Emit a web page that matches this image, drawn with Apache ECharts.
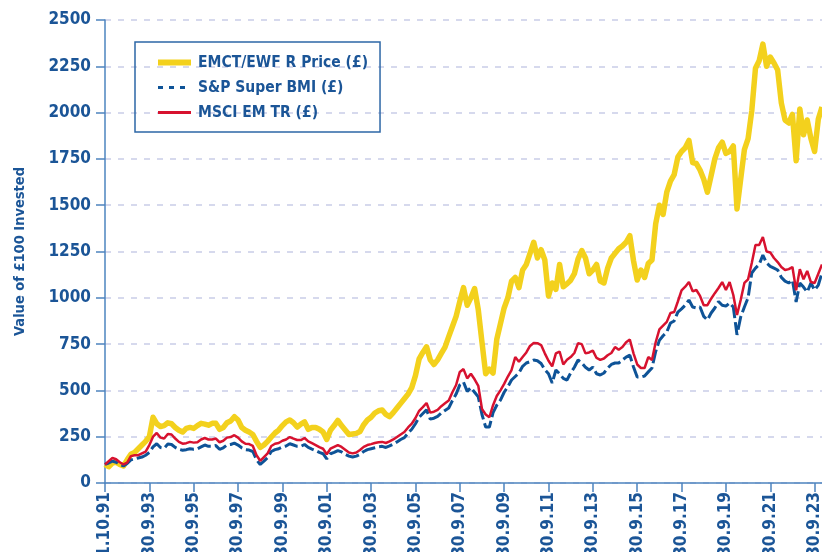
<!DOCTYPE html>
<html>
<head>
<meta charset="utf-8">
<script src="https://cdn.jsdelivr.net/npm/echarts@6/dist/echarts.min.js"></script>
<style>
  html, body { margin: 0; padding: 0; background: #fff; }
  #chart { width: 822px; height: 552px; }
</style>
</head>
<body>
<div id="chart"></div>
<script>
// one value every 2 months, starting 1 Oct 1991
var STEP = 2

var tickLabels = ['01.10.91', '30.9.93', '30.9.95', '30.9.97', '30.9.99', '30.9.01', '30.9.03', '30.9.05',
  '30.9.07', '30.9.09', '30.9.11', '30.9.13', '30.9.15', '30.9.17', '30.9.19', '30.9.21', '30.9.23']

var emctPrice = [
  100, 88, 108, 113, 100, 92,
  125, 155, 165, 185, 205, 225,
  250, 355, 320, 305, 310, 325,
  320, 300, 285, 275, 295, 300,
  295, 310, 322, 318, 312, 322,
  322, 290, 300, 325, 335, 358,
  340, 300, 285, 275, 262, 225,
  192, 205, 225, 248, 270, 286,
  310, 330, 340, 325, 302, 318,
  330, 290, 300, 300, 290, 275,
  235, 285, 310, 338, 310, 286,
  262, 265, 268, 278, 315, 340,
  355, 378, 390, 394, 370, 358,
  380, 405, 430, 455, 480, 515,
  580, 670, 705, 735, 665, 640,
  665, 700, 734, 790, 845, 900,
  980, 1055, 960, 1000, 1050, 935,
  760, 590, 615, 594, 775, 860,
  945, 1000, 1090, 1110, 1055, 1150,
  1180, 1240, 1300, 1215, 1260, 1204,
  1010, 1080, 1045, 1180, 1060, 1075,
  1095, 1130, 1210, 1255, 1215, 1130,
  1150, 1180, 1090, 1080, 1160, 1215,
  1240, 1265, 1280, 1300, 1335, 1200,
  1096, 1150, 1110, 1185, 1204, 1400,
  1500, 1450, 1570, 1630, 1665, 1760,
  1790, 1810, 1850, 1730, 1725, 1690,
  1640, 1570, 1660, 1750, 1810, 1840,
  1780, 1790, 1820, 1480, 1640, 1800,
  1860, 2010, 2240, 2280, 2370, 2250,
  2300, 2268, 2230, 2052, 1960, 1944,
  1990, 1740, 2020, 1880, 1960, 1860,
  1790, 1965, 2030
]

var spSuperBmi = [
  100, 108, 118, 112, 100, 92,
  105, 125, 130, 135, 140, 150,
  165, 195, 212, 192, 188, 210,
  208, 192, 182, 177, 180, 185,
  182, 185, 195, 205, 198, 198,
  202, 182, 190, 205, 208, 215,
  205, 190, 180, 178, 170, 125,
  100, 118, 138, 170, 180, 185,
  195, 200, 212, 205, 198, 198,
  208, 192, 183, 175, 165, 158,
  130, 158, 165, 175, 168, 155,
  145, 140, 145, 155, 170, 180,
  185, 190, 195, 198, 192, 200,
  210, 222, 235, 245, 270, 290,
  320, 355, 375, 395, 345, 350,
  360, 378, 392, 405, 445, 480,
  530, 545, 495, 515, 490, 465,
  370, 302, 302, 380, 420, 448,
  490, 520, 556, 575, 594, 630,
  648, 655, 664, 660, 645, 612,
  590, 540, 610, 590, 565, 556,
  594, 625, 664, 648, 625, 610,
  626, 590, 583, 594, 620, 640,
  648, 648, 664, 680, 690, 626,
  572, 572, 578, 600, 621, 710,
  770, 795, 815, 864, 875, 923,
  940, 960, 988, 950, 945, 950,
  900, 880, 918, 945, 980, 960,
  955, 972, 950, 800, 896, 950,
  1000, 1134, 1160, 1180, 1231, 1188,
  1170, 1160, 1150, 1110, 1090, 1080,
  1096, 977, 1080, 1058, 1031, 1080,
  1042, 1069, 1134
]

var msciEmTr = [
  100, 118, 135, 128, 112, 100,
  110, 145, 150, 150, 160, 170,
  205, 250, 270, 245, 240, 265,
  262, 240, 222, 212, 215, 222,
  218, 220, 235, 243, 235, 235,
  240, 220, 228, 245, 248, 258,
  245, 225, 212, 210, 200, 150,
  120, 140, 160, 200, 212, 216,
  228, 235, 248, 240, 232, 232,
  243, 225, 215, 205, 194, 185,
  155, 185, 195, 205, 195, 180,
  165, 160, 165, 178, 195, 205,
  210, 216, 220, 222, 216, 225,
  235, 248, 262, 275, 300, 320,
  351, 390, 410, 432, 380, 385,
  395, 415, 430, 445, 490, 529,
  600, 615, 565, 590, 560, 525,
  400, 370, 355, 420, 470, 500,
  535, 575, 610, 680, 655, 680,
  705, 740, 756, 755, 745, 700,
  660, 630, 700, 710, 640, 665,
  680, 702, 755, 750, 700, 705,
  715, 675, 665, 672, 690, 702,
  734, 720, 734, 760, 775, 700,
  640, 621, 621, 680, 664, 760,
  830, 850, 870, 918, 923, 980,
  1040, 1060, 1085, 1035, 1042, 1010,
  960, 960, 995, 1025, 1053, 1085,
  1042, 1085, 1015, 907, 988, 1080,
  1100, 1188, 1285, 1285, 1328, 1250,
  1245, 1215, 1193, 1166, 1150, 1155,
  1166, 1040, 1155, 1100, 1145, 1085,
  1080, 1130, 1180
]

var seriesNames = ['EMCT/EWF R Price (£)', 'S&P Super BMI (£)', 'MSCI EM TR (£)']

var FONT = "'Liberation Sans Narrow', 'Arial Narrow', 'DejaVu Sans Condensed', sans-serif"
var TEXT = '#1b5597'
var AXIS = '#4d84bf'

function toPoints (arr) {
  return arr.map(function (v, i) { return [i * STEP, v] })
}

var tickValues = tickLabels.map(function (t, i) { return i * 24 })

var option = {
  animation: false,
  backgroundColor: '#fff',
  textStyle: { fontFamily: FONT },
  grid: { left: 105, right: 0, top: 20, bottom: 69, outerBoundsMode: 'none', containLabel: false },
  legend: {
    orient: 'vertical',
    left: 135,
    top: 42,
    padding: [12, 12, 11, 20],
    itemGap: 8,
    itemWidth: 33,
    itemHeight: 17,
    borderColor: '#2d67a6',
    borderWidth: 1.5,
    itemStyle: { opacity: 0 },
    textStyle: { color: TEXT, fontSize: 15.5, lineHeight: 17, fontWeight: 'bold', fontFamily: FONT, padding: [0, 0, 0, 2] },
    data: [
      { name: seriesNames[0], lineStyle: { width: 6 } },
      { name: seriesNames[1], lineStyle: { type: [5, 6], width: 3 } },
      { name: seriesNames[2], lineStyle: { width: 3 } }
    ]
  },
  xAxis: {
    type: 'value',
    min: 0,
    max: 388,
    interval: 24,
    axisLine: { lineStyle: { color: AXIS, width: 1.5 } },
    axisTick: { show: true, length: 9, lineStyle: { color: AXIS, width: 1.5 }, customValues: tickValues },
    splitLine: { show: false },
    axisLabel: {
      customValues: tickValues,
      rotate: 90,
      margin: 9,
      color: TEXT,
      fontSize: 17,
      fontWeight: 'bold',
      fontFamily: FONT,
      formatter: function (v) {
        var i = Math.round(v / 24)
        return tickLabels[i] || ''
      }
    }
  },
  yAxis: {
    type: 'value',
    min: 0,
    max: 2500,
    interval: 250,
    name: 'Value of £100 Invested',
    nameLocation: 'middle',
    nameRotate: 90,
    nameGap: 77,
    nameTextStyle: { color: TEXT, fontSize: 14.5, fontWeight: 'bold', fontFamily: FONT },
    axisLine: { show: true, lineStyle: { color: AXIS, width: 1.5 } },
    axisTick: { show: true, length: 9, lineStyle: { color: AXIS, width: 1.5 } },
    axisLabel: {
      color: TEXT,
      fontSize: 17,
      fontWeight: 'bold',
      fontFamily: FONT,
      margin: 14,
      formatter: function (v) { return String(v) }
    },
    splitLine: { show: true, lineStyle: { color: '#c9cde7', width: 1.5, type: [6, 7] } }
  },
  series: [
    {
      name: seriesNames[0],
      type: 'line',
      symbol: 'none',
      data: toPoints(emctPrice),
      lineStyle: { color: '#f3d11d', width: 5.5, join: 'round' },
      itemStyle: { color: '#f3d11d' },
      z: 2
    },
    {
      name: seriesNames[1],
      type: 'line',
      symbol: 'none',
      data: toPoints(spSuperBmi),
      lineStyle: { color: '#0e5397', width: 3, type: [14, 4] },
      itemStyle: { color: '#0e5397' },
      z: 3
    },
    {
      name: seriesNames[2],
      type: 'line',
      symbol: 'none',
      data: toPoints(msciEmTr),
      lineStyle: { color: '#d7122f', width: 2.5 },
      itemStyle: { color: '#d7122f' },
      z: 4
    }
  ]
}

var chart = echarts.init(document.getElementById('chart'))
chart.setOption(option)
window.addEventListener('resize', function () {
  chart.resize()
})
</script>
</body>
</html>
